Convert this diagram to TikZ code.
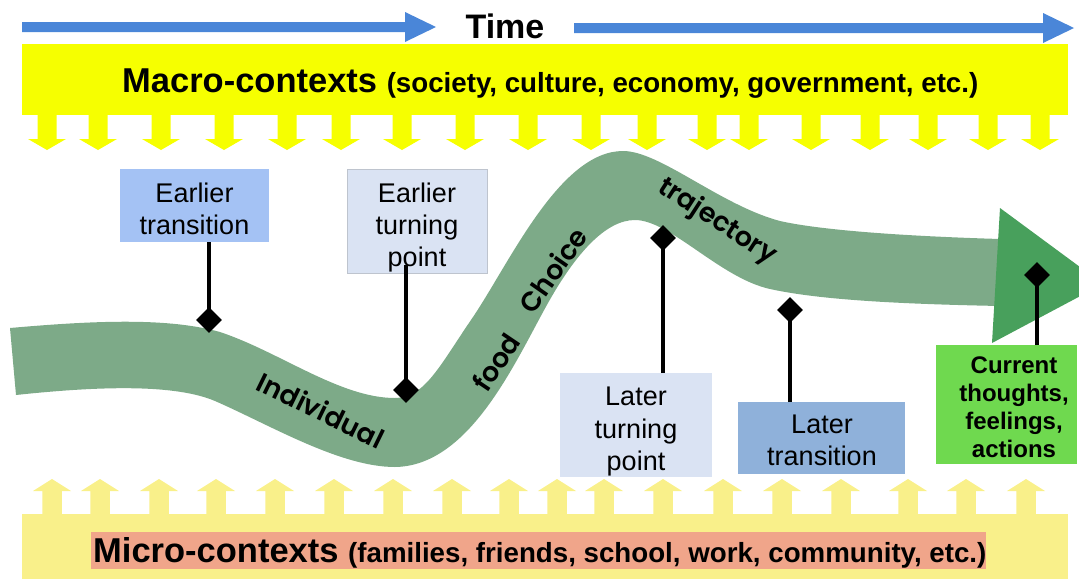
\documentclass[tikz,border=0pt]{standalone}
\usepackage{fontspec}
\usetikzlibrary{shapes.geometric}
\setmainfont{Liberation Sans}
\newfontfamily\bandfont{Poppins}[UprightFont=* SemiBold]

\definecolor{timeblue}{RGB}{74,134,216}
\definecolor{macroyellow}{RGB}{246,255,0}
\definecolor{microyellow}{RGB}{249,240,138}
\definecolor{microsalmon}{RGB}{240,165,138}
\definecolor{bandgreen}{RGB}{125,170,136}
\definecolor{headgreen}{RGB}{72,160,92}
\definecolor{transblue}{RGB}{164,194,244}
\definecolor{turnpale}{RGB}{218,227,243}
\definecolor{turnedge}{RGB}{190,196,206}
\definecolor{latertrans}{RGB}{143,177,218}
\definecolor{nowgreen}{RGB}{111,217,79}

\begin{document}
\begin{tikzpicture}[x=1pt,y=-1pt,
  box/.style={rectangle, inner sep=0pt, outer sep=0pt},
  boxtext/.style={anchor=base, inner sep=0pt, font=\fontsize{27}{32}\selectfont},
  nowtext/.style={anchor=base, inner sep=0pt, font=\fontsize{24}{28}\selectfont\bfseries},
  bandtext/.style={inner sep=0pt, font=\fontsize{27}{31}\selectfont\bandfont},
  pin/.style={line width=4.5pt, black},
  marker/.style={diamond, fill=black, inner sep=0pt, minimum width=26pt, minimum height=26pt}
]
\useasboundingbox (0,0) rectangle (1079,579);
\clip (0,0) rectangle (1079,579);

% time arrows along the top
\fill[timeblue] (22,22) -- (405,22) -- (405,12) -- (436,27) -- (405,42) -- (405,32) -- (22,32) -- cycle;
\fill[timeblue] (574,23) -- (1043,23) -- (1043,13) -- (1074,28) -- (1043,43) -- (1043,33) -- (574,33) -- cycle;
\node[anchor=base, inner sep=0pt, font=\fontsize{34}{40}\selectfont\bfseries] (time) at (505,38) {Time};

% macro-contexts bar with downward arrows
\fill[macroyellow] (22,44) rectangle (1068,115);
\foreach \x in {47,98,161,224,287,341,402,465,528,591,647,707,749,811,870,928,988,1040}
  \fill[macroyellow] (\x-9.5,113) -- (\x+9.5,113) -- (\x+9.5,139) -- (\x+19,139) -- (\x,150) -- (\x-19,139) -- (\x-9.5,139) -- cycle;
\node[anchor=base west, inner sep=0pt] (macro) at (122,92)
  {\fontsize{34.5}{40}\selectfont\bfseries Macro-contexts \fontsize{27.7}{32}\selectfont(society, culture, economy, government, etc.)};

% micro-contexts bar with upward arrows
\fill[microyellow] (22,514) rectangle (1068,579);
\foreach \x in {52,100,159,216,275,334,393,452,509,557,604,663,723,782,841,908,966,1026}
  \fill[microyellow] (\x-9.75,516) -- (\x-9.75,491) -- (\x-19,491) -- (\x,479) -- (\x+19,491) -- (\x+9.75,491) -- (\x+9.75,516) -- cycle;
\fill[microsalmon] (91,532) rectangle (986,569);
\node[anchor=base west, inner sep=0pt] (micro) at (93,562)
  {\fontsize{34.5}{40}\selectfont\bfseries Micro-contexts \fontsize{27.7}{32}\selectfont(families, friends, school, work, community, etc.)};

% the trajectory band
\fill[bandgreen] (10,328) .. controls (100,320) and (170,318) .. (220,332)
  .. controls (280,352) and (340,398) .. (395,398)
  .. controls (425,398) and (440,365) .. (473,317)
  .. controls (510,262) and (560,151) .. (623,151)
  .. controls (660,151) and (720,205) .. (780,221)
  .. controls (820,230) and (900,236) .. (1000,239)
  -- (1000,306)
  .. controls (900,304) and (820,300) .. (770,289)
  .. controls (720,278) and (670,220) .. (635,220)
  .. controls (605,220) and (575,255) .. (548,303)
  .. controls (515,362) and (470,466) .. (395,467)
  .. controls (340,467) and (270,425) .. (215,401)
  .. controls (175,384) and (100,386) .. (16,395)
  -- cycle;
\fill[headgreen] (1000,208) -- (1103,284) -- (992,343) -- cycle;

\node[bandtext, rotate=-26] (wIndividual) at (321,410) {Individual};
\node[bandtext, rotate=56] (wfood) at (496,362) {food};
\node[bandtext, rotate=55] (wChoice) at (553,270) {Choice};
\node[bandtext, rotate=-33] (wtrajectory) at (717,222) {trajectory};

% labelled boxes
\node[box, fill=transblue, minimum width=149pt, minimum height=73pt] (earlyTrans) at (194.5,205.5) {};
\node[boxtext] (earlyTransA) at (194.5,202) {Earlier};
\node[boxtext] (earlyTransB) at (194.5,234) {transition};

\node[box, fill=turnpale, draw=turnedge, line width=1pt, minimum width=140pt, minimum height=104pt] (earlyTurn) at (417,221) {};
\node[boxtext] (earlyTurnA) at (417,202) {Earlier};
\node[boxtext] (earlyTurnB) at (417,234) {turning};
\node[boxtext] (earlyTurnC) at (417,266) {point};

\node[box, fill=turnpale, minimum width=152pt, minimum height=104pt] (lateTurn) at (636,425) {};
\node[boxtext] (lateTurnA) at (636,405) {Later};
\node[boxtext] (lateTurnB) at (636,438) {turning};
\node[boxtext] (lateTurnC) at (636,470) {point};

\node[box, fill=latertrans, minimum width=167pt, minimum height=72pt] (lateTrans) at (821.5,438) {};
\node[boxtext] (lateTransA) at (822,433) {Later};
\node[boxtext] (lateTransB) at (822,465) {transition};

\node[box, fill=nowgreen, minimum width=141pt, minimum height=119pt] (now) at (1006.5,404.5) {};
\node[nowtext] (nowA) at (1014,373) {Current};
\node[nowtext] (nowB) at (1014,401) {thoughts,};
\node[nowtext] (nowC) at (1014,429) {feelings,};
\node[nowtext] (nowD) at (1014,457) {actions};

% pins from the boxes to their moments on the band
\node[marker] (mEarlyTrans) at (209,320) {};
\node[marker] (mEarlyTurn) at (406,390) {};
\node[marker] (mLateTurn) at (663,238) {};
\node[marker] (mLateTrans) at (790,310) {};
\node[marker] (mNow) at (1037,275) {};
\coordinate (pEarlyTrans) at (209,242);
\coordinate (pEarlyTurn) at (406,265);
\coordinate (pLateTurn) at (663,373);
\coordinate (pLateTrans) at (790,402);
\coordinate (pNow) at (1037,345);
\draw[pin] (pEarlyTrans) -- (mEarlyTrans.center);
\draw[pin] (pEarlyTurn) -- (mEarlyTurn.center);
\draw[pin] (pLateTurn) -- (mLateTurn.center);
\draw[pin] (pLateTrans) -- (mLateTrans.center);
\draw[pin] (pNow) -- (mNow.center);
\end{tikzpicture}
\end{document}
